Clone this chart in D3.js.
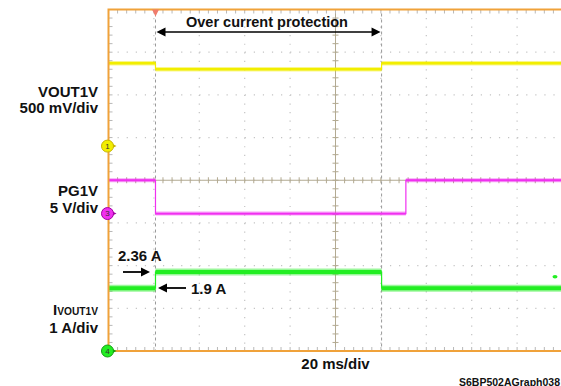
<!DOCTYPE html>
<html>
<head>
<meta charset="utf-8">
<script src="https://cdn.jsdelivr.net/npm/d3@7"></script>
<style>
  html, body { margin: 0; padding: 0; background: #ffffff; }
  svg { display: block; }
  text { font-family: "Liberation Sans", Arial, sans-serif; font-weight: bold; fill: #111; }
</style>
</head>
<body>
<svg id="chart" width="561" height="386"></svg>
<script>
// ---------------- data ----------------
const timeDomain = [0, 200];            // ms, 20 ms/div, 10 divisions
const divisionTicks = d3.range(0, 11);  // horizontal divisions
const verticalDivs = d3.range(0, 9);    // vertical divisions

// channel 1: VOUT1V, 500 mV/div
const voutTime  = [0, 20.7, 120.3, 200];
const voutValue = [0.97, 0.90, 0.97, 0.97];
// channel 3: PG1V, 5 V/div
const pgTime  = [0, 20.7, 131.0, 200];
const pgValue = [3.9, 0.0, 3.9, 3.9];
// channel 4: IVOUT1V, 1 A/div
const iTime  = [0, 20.7, 120.3, 200];
const iValue = [1.47, 1.85, 1.47, 1.47];

// channel settings: volts per division and offset (div from bottom)
const channels = [
  { id: "1", name: "VOUT1V", scale: "500 mV/div", perDiv: 0.5, offset: 4.8,  color: "#f2ee00", dark: "#c8b400", time: voutTime, value: voutValue, band: 4.5, core: 2.5 },
  { id: "3", name: "PG1V",   scale: "5 V/div",    perDiv: 5,   offset: 3.22, color: "#f030f0", dark: "#a000a0", time: pgTime,   value: pgValue,   band: 4, core: 1.8 },
  { id: "4", name: "IVOUT1V",scale: "1 A/div",    perDiv: 1,   offset: 0,    color: "#22ee22", dark: "#10a010", time: iTime,    value: iValue,    band: 7, core: 4 }
];

const ocpStart = 20.7, ocpEnd = 120.3;  // marker cursors (ms)

// ---------------- layout ----------------
const svg = d3.select("#chart");
const x = d3.scaleLinear().domain(timeDomain).range([108.5, 562.5]);
const yDiv = d3.scaleLinear().domain([0, 8]).range([351, 9.5]);
const divW = (x(20) - x(0));
const divH = (yDiv(0) - yDiv(1));

const grid = svg.append("g");
// dotted grid
divisionTicks.slice(1, 10).forEach(d => {
  grid.append("line")
    .attr("x1", x(d * 20)).attr("x2", x(d * 20))
    .attr("y1", yDiv(8)).attr("y2", yDiv(0))
    .attr("stroke", "#c4c4c4").attr("stroke-width", 1.2)
    .attr("stroke-dasharray", `1.2,${(divH / 5 - 1.2).toFixed(2)}`);
});
verticalDivs.slice(1, 8).forEach(d => {
  grid.append("line")
    .attr("x1", x(0)).attr("x2", x(200))
    .attr("y1", yDiv(d)).attr("y2", yDiv(d))
    .attr("stroke", "#c4c4c4").attr("stroke-width", 1.2)
    .attr("stroke-dasharray", `1.2,${(divW / 5 - 1.2).toFixed(2)}`);
});
// center lines
const cx = x(100), cy = yDiv(4);
grid.append("line").attr("x1", cx).attr("x2", cx).attr("y1", yDiv(8)).attr("y2", yDiv(0))
  .attr("stroke", "#b3aa92").attr("stroke-width", 1);
grid.append("line").attr("x1", x(0)).attr("x2", x(200)).attr("y1", cy).attr("y2", cy)
  .attr("stroke", "#b3aa92").attr("stroke-width", 1);
// minor ticks on center lines and borders
const minorX = d3.range(0, 50).map(i => i * 4);
const minorY = d3.range(0, 40).map(i => i / 5);
minorX.forEach(t => {
  const px = x(t);
  grid.append("line").attr("x1", px).attr("x2", px).attr("y1", cy - 3).attr("y2", cy + 3).attr("stroke", "#b3aa92");
  grid.append("line").attr("x1", px).attr("x2", px).attr("y1", yDiv(8)).attr("y2", yDiv(8) + 4).attr("stroke", "#b8b8b8");
  grid.append("line").attr("x1", px).attr("x2", px).attr("y1", yDiv(0) - 4).attr("y2", yDiv(0)).attr("stroke", "#b8b8b8");
});
minorY.forEach(d => {
  const py = yDiv(d);
  grid.append("line").attr("x1", cx - 3).attr("x2", cx + 3).attr("y1", py).attr("y2", py).attr("stroke", "#b3aa92");
  grid.append("line").attr("x1", x(0)).attr("x2", x(0) + 4).attr("y1", py).attr("y2", py).attr("stroke", "#b8b8b8");
});

// cursor lines
[ocpStart, ocpEnd].forEach(t => {
  grid.append("line").attr("x1", x(t)).attr("x2", x(t)).attr("y1", yDiv(8) + 4).attr("y2", yDiv(0))
    .attr("stroke", "#9a9a9a").attr("stroke-width", 1).attr("stroke-dasharray", "3,3");
});

// ---------------- traces ----------------
const traces = svg.append("g");
channels.forEach(ch => {
  const yv = d3.scaleLinear().domain([0, ch.perDiv]).range([yDiv(ch.offset), yDiv(ch.offset + 1)]);
  const pts = ch.time.map((t, i) => [t, ch.value[i]]);
  const line = d3.line().x(d => x(d[0])).y(d => yv(d[1])).curve(d3.curveStepAfter);
  traces.append("path").attr("d", line(pts)).attr("fill", "none")
    .attr("stroke", ch.color).attr("stroke-width", 1.2);
  for (let i = 0; i < pts.length - 1; i++) {
    const y0 = yv(pts[i][1]);
    traces.append("line").attr("x1", x(pts[i][0])).attr("x2", x(pts[i + 1][0]))
      .attr("y1", y0).attr("y2", y0)
      .attr("stroke", ch.color).attr("stroke-opacity", 0.45).attr("stroke-width", ch.band);
    traces.append("line").attr("x1", x(pts[i][0])).attr("x2", x(pts[i + 1][0]))
      .attr("y1", y0).attr("y2", y0)
      .attr("stroke", ch.color).attr("stroke-width", ch.core);
  }
});
// small channel-4 indicator at right edge
svg.append("ellipse").attr("cx", 555).attr("cy", yDiv(1.74)).attr("rx", 2.5).attr("ry", 1.8).attr("fill", "#22ee22");

// ---------------- frame ----------------
svg.append("rect").attr("x", x(0)).attr("y", yDiv(8)).attr("width", x(200) - x(0)).attr("height", yDiv(0) - yDiv(8))
  .attr("fill", "none").attr("stroke", "#f0a23a").attr("stroke-width", 2);

// trigger marker
svg.append("path")
  .attr("d", `M${x(ocpStart) - 3.5},${yDiv(8)} L${x(ocpStart) + 3.5},${yDiv(8)} L${x(ocpStart)},${yDiv(8) + 7} Z`)
  .attr("fill", "#f07c6c");

// channel markers
channels.forEach(ch => {
  const py = yDiv(ch.offset);
  const g = svg.append("g").attr("transform", `translate(${x(0) - 1},${py})`);
  g.append("path").attr("d", "M3,-3 L9,0 L3,3 Z").attr("fill", ch.dark);
  g.append("circle").attr("r", 6).attr("fill", ch.color).attr("stroke", ch.dark).attr("stroke-width", 1);
  g.append("text").attr("text-anchor", "middle").attr("y", 2.8).style("font-size", "8px").style("font-weight", "normal")
    .style("fill", "#333").text(ch.id);
});

// ---------------- annotations ----------------
const ann = svg.append("g");
const labelSize = "15px";
ann.append("text").attr("x", 98).attr("y", 97).attr("text-anchor", "end").style("font-size", labelSize).text("VOUT1V");
ann.append("text").attr("x", 98).attr("y", 112.5).attr("text-anchor", "end").style("font-size", labelSize).text("500 mV/div");
ann.append("text").attr("x", 98).attr("y", 196).attr("text-anchor", "end").style("font-size", labelSize).text("PG1V");
ann.append("text").attr("x", 98).attr("y", 212.5).attr("text-anchor", "end").style("font-size", labelSize).text("5 V/div");
const iLab = ann.append("text").attr("x", 98).attr("y", 314.5).attr("text-anchor", "end").style("font-size", labelSize);
iLab.append("tspan").text("I");
iLab.append("tspan").style("font-size", "10.2px").attr("dy", 0.5).text("VOUT1V");
ann.append("text").attr("x", 98).attr("y", 333).attr("text-anchor", "end").style("font-size", labelSize).text("1 A/div");

ann.append("text").attr("x", 267).attr("y", 27).attr("text-anchor", "middle").style("font-size", "14.5px").text("Over current protection");
ann.append("text").attr("x", x(100)).attr("y", 368.5).attr("text-anchor", "middle").style("font-size", labelSize).text("20 ms/div");
ann.append("text").attr("x", 560).attr("y", 385.5).attr("text-anchor", "end").style("font-size", "10.5px").text("S6BP502AGraph038");

// arrows
function arrowHead(tipX, tipY, dir) {
  ann.append("path")
    .attr("d", `M${tipX},${tipY} L${tipX - dir * 9},${tipY - 4.5} L${tipX - dir * 9},${tipY + 4.5} Z`)
    .attr("fill", "#000");
}
const ay = 32;
ann.append("line").attr("x1", x(ocpStart) + 4).attr("x2", x(ocpEnd) - 4).attr("y1", ay).attr("y2", ay).attr("stroke", "#000").attr("stroke-width", 1.5);
arrowHead(x(ocpStart) + 1, ay, -1);
arrowHead(x(ocpEnd) - 1, ay, 1);

ann.append("text").attr("x", 118).attr("y", 261).style("font-size", labelSize).text("2.36 A");
ann.append("line").attr("x1", 123).attr("x2", 142).attr("y1", 272).attr("y2", 272).attr("stroke", "#000").attr("stroke-width", 1.8);
arrowHead(150, 272, 1);

ann.append("line").attr("x1", 166).attr("x2", 186).attr("y1", 288).attr("y2", 288).attr("stroke", "#000").attr("stroke-width", 1.8);
arrowHead(158, 288, -1);
ann.append("text").attr("x", 191).attr("y", 293.5).style("font-size", labelSize).text("1.9 A");
</script>
</body>
</html>
